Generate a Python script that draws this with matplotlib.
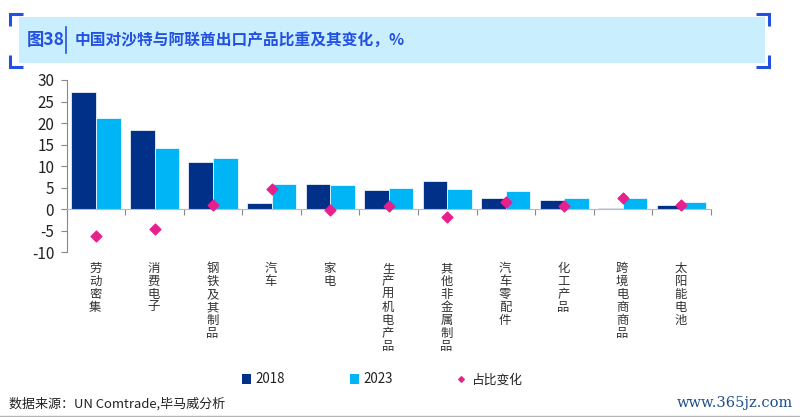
import matplotlib
matplotlib.use('Agg')
import matplotlib.pyplot as plt
import numpy as np
from matplotlib.patches import Rectangle

plt.rcParams['font.family'] = ['Noto Sans CJK SC', 'DejaVu Sans']
plt.rcParams['axes.unicode_minus'] = False

categories = ['劳动密集', '消费电子', '钢铁及其制品', '汽车', '家电', '生产用机电产品',
              '其他非金属制品', '汽车零配件', '化工产品', '跨境电商商品', '太阳能电池']
values_2018 = [27.2, 18.5, 11.0, 1.4, 5.9, 4.4, 6.5, 2.7, 2.1, 0.25, 0.9]
values_2023 = [21.2, 14.1, 11.9, 5.9, 5.6, 5.0, 4.7, 4.2, 2.7, 2.7, 1.7]
change = [-6.2, -4.5, 1.0, 4.6, -0.2, 0.8, -1.7, 1.6, 0.7, 2.5, 1.0]
y_ticks = [-10, -5, 0, 5, 10, 15, 20, 25, 30]

W, H = 800, 417
fig = plt.figure(figsize=(W / 100, H / 100), dpi=100)

# overlay in pixel coordinates for the header and footer
bg = fig.add_axes([0, 0, 1, 1])
bg.set_xlim(0, W)
bg.set_ylim(H, 0)
bg.axis('off')

bg.add_patch(Rectangle((19, 17), 746, 46, color='#c9efff', lw=0))
blue = '#2450e0'
for xs, ys in [([23, 10, 10], [13.5, 13.5, 26]), ([23, 10, 10], [67, 67, 55]),
               ([756, 769, 769], [13.5, 13.5, 26]), ([756, 769, 769], [67, 67, 55])]:
    bg.plot(xs, ys, color=blue, lw=2.2, solid_joinstyle='miter', solid_capstyle='butt')
bg.plot([66, 66], [27, 53], color=blue, lw=1.2)
bg.text(27, 40, '图38', color=blue, fontsize=12.5, fontweight='bold', va='center')
bg.text(75, 40, '中国对沙特与阿联酋出口产品比重及其变化，%', color=blue, fontsize=11.3,
        fontweight='bold', va='center')

bg.text(9, 404, '数据来源：UN Comtrade,毕马威分析', fontsize=9.4, color='#222222', va='center')
bg.text(793, 403, 'www.365jz.com', fontsize=10.5, color='#1d4f8c', ha='right', va='center',
        family='DejaVu Serif')
bg.plot([0, W], [416, 416], color='#b5b5b5', lw=1)

# main chart
ax = fig.add_axes([66.7 / W, 1 - 252.3 / H, 644 / W, 172.3 / H])
ax.patch.set_alpha(0)
x = np.arange(len(categories))
width = 0.42
ax.bar(x - width / 2, values_2018, width, color='#003087', edgecolor='white', lw=0.5, label='2018')
ax.bar(x + width / 2, values_2023, width, color='#00b5f5', edgecolor='white', lw=0.5, label='2023')
ax.scatter(x, change, marker='D', s=30, color='#e6208c', zorder=3, label='占比变化')

ax.set_xlim(-0.5, len(categories) - 0.5)
ax.set_ylim(-10, 30)
ax.set_yticks(y_ticks)
ax.set_xticks(np.arange(len(categories) + 1) - 0.5)
ax.set_xticklabels([])
ax.tick_params(axis='y', length=4, width=0.8, color='#888888', labelsize=11, labelcolor='#222222', pad=5)
ax.tick_params(axis='x', length=4, width=0.8, color='#888888')
for name in ['top', 'right']:
    ax.spines[name].set_visible(False)
ax.spines['left'].set_color('#888888')
ax.spines['bottom'].set_color('#bbbbbb')
ax.spines['bottom'].set_position(('data', 0))

# vertical category labels, one character per line
for i, name in enumerate(categories):
    ax.annotate('\n'.join(name), (i, 0), xycoords=('data', 'axes fraction'), xytext=(-0.5, -7),
                textcoords='offset points', ha='center', va='top', ma='center', fontsize=8.9,
                color='#333333', linespacing=1.0)

for px, col, label in [(242, '#003087', '2018'), (350, '#00b5f5', '2023')]:
    bg.add_patch(Rectangle((px, 374), 9, 10, color=col, lw=0))
    bg.text(px + 13, 379, label, fontsize=9.6, color='#222222', va='center')
bg.scatter([461], [379], marker='D', s=8, color='#e6208c')
bg.text(471, 380, '占比变化', fontsize=9.2, color='#222222', va='center')

fig.savefig('out.png', dpi=100)
